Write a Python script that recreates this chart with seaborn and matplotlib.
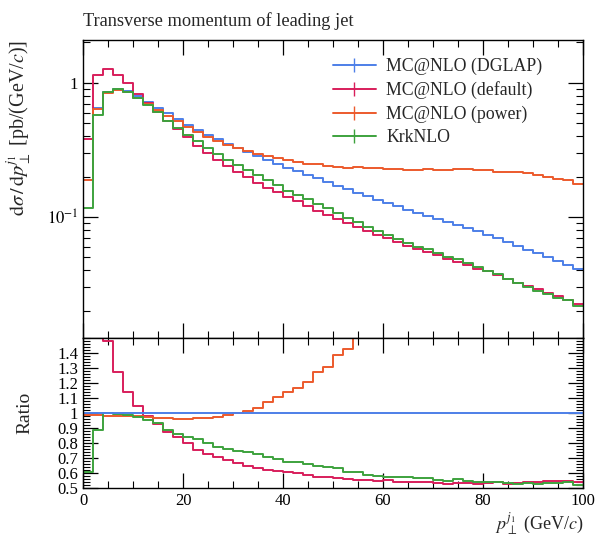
import numpy as np
import pandas as pd
import matplotlib
matplotlib.use("Agg")
import matplotlib.pyplot as plt
from matplotlib.lines import Line2D
from matplotlib.ticker import MultipleLocator, FixedLocator, FuncFormatter, NullFormatter
import seaborn as sns

# 2 GeV bins from 0 to 100 GeV
edges = np.arange(0, 102, 2)

# dsigma/dpT [pb/(GeV/c)] per bin
dglap = [0.19, 0.65, 0.85, 0.90, 0.865, 0.79, 0.715, 0.65, 0.59, 0.54,
         0.488, 0.447, 0.41, 0.378, 0.35, 0.326, 0.304, 0.284, 0.266, 0.249,
         0.233, 0.219, 0.206, 0.194, 0.182, 0.171, 0.161, 0.152, 0.143, 0.135,
         0.127, 0.120, 0.113, 0.107, 0.102, 0.097, 0.092, 0.0875, 0.083, 0.078,
         0.074, 0.0695, 0.0655, 0.061, 0.057, 0.0535, 0.050, 0.047, 0.0442, 0.0413]
default = [0.378, 1.15, 1.26, 1.144, 0.988, 0.829, 0.701, 0.601, 0.517, 0.455,
           0.392, 0.337, 0.299, 0.268, 0.240, 0.2165, 0.1973, 0.1806, 0.1655, 0.1526,
           0.1407, 0.1310, 0.1209, 0.1117, 0.1041, 0.0973, 0.0902, 0.0841, 0.0788, 0.0738,
           0.0700, 0.0650, 0.0612, 0.0576, 0.0549, 0.0517, 0.0487, 0.0466, 0.0441, 0.0411,
           0.0393, 0.0373, 0.0346, 0.0324, 0.0307, 0.0290, 0.0274, 0.0258, 0.0242, 0.0224]
power = [0.1875, 0.642, 0.835, 0.884, 0.848, 0.773, 0.696, 0.630, 0.569, 0.518,
         0.469, 0.433, 0.397, 0.369, 0.345, 0.327, 0.309, 0.294, 0.286, 0.276,
         0.265, 0.256, 0.248, 0.247, 0.238, 0.237, 0.230, 0.234, 0.232, 0.230,
         0.229, 0.227, 0.225, 0.222, 0.228, 0.225, 0.225, 0.229, 0.228, 0.225,
         0.222, 0.218, 0.216, 0.215, 0.211, 0.207, 0.199, 0.193, 0.188, 0.176]
krknlo = [0.1157, 0.577, 0.848, 0.892, 0.854, 0.771, 0.681, 0.605, 0.523, 0.463,
          0.411, 0.370, 0.327, 0.293, 0.267, 0.2435, 0.2256, 0.2056, 0.1886, 0.1726,
          0.1575, 0.1469, 0.1355, 0.1259, 0.1161, 0.1079, 0.0980, 0.0918, 0.0839, 0.0786,
          0.0732, 0.0691, 0.0645, 0.0603, 0.0580, 0.0536, 0.0503, 0.0488, 0.0456, 0.0423,
          0.0398, 0.0377, 0.0348, 0.0321, 0.0303, 0.0283, 0.0267, 0.0251, 0.0240, 0.0216]

labels = ["MC@NLO (DGLAP)", "MC@NLO (default)", "MC@NLO (power)", "KrkNLO"]
colors = ["#4d7fe8", "#d81e5b", "#ec5a2c", "#3da23d"]
palette = dict(zip(labels, colors))

sns.set_theme(style="ticks")
plt.rcParams["font.family"] = ["Liberation Serif", "DejaVu Serif"]
plt.rcParams["mathtext.fontset"] = "stix"
plt.rcParams["axes.edgecolor"] = "black"
plt.rcParams["axes.linewidth"] = 1.0

# wide table, last value repeated so steps-post closes the last bin
wide = pd.DataFrame({name: np.append(v, v[-1]) for name, v in zip(labels, [dglap, default, power, krknlo])})
wide["pt"] = edges
ratio = wide[labels].div(wide[labels[0]], axis=0)
ratio["pt"] = edges

main_long = wide.melt(id_vars="pt", var_name="sample", value_name="xsec")
ratio_long = ratio.melt(id_vars="pt", var_name="sample", value_name="ratio")

fig = plt.figure(figsize=(5.96, 5.36), dpi=100)
ax = fig.add_axes([83 / 596, 1 - 338 / 536, 500 / 596, 298 / 536])
rax = fig.add_axes([83 / 596, 1 - 488 / 536, 500 / 596, 150 / 536], sharex=ax)

sns.lineplot(data=main_long, x="pt", y="xsec", hue="sample", hue_order=labels,
             palette=palette, estimator=None, drawstyle="steps-post",
             linewidth=1.4, legend=False, ax=ax)
ax.set_yscale("log")

ratio_order = [labels[1], labels[2], labels[3], labels[0]]
sns.lineplot(data=ratio_long, x="pt", y="ratio", hue="sample", hue_order=ratio_order,
             palette=palette, estimator=None, drawstyle="steps-post",
             linewidth=1.4, legend=False, ax=rax)

ax.set_xlim(0, 100)
ax.set_ylim(0.01256, 2.08)
rax.set_ylim(0.5, 1.5)

for a in (ax, rax):
    a.tick_params(which="both", direction="in", top=True, right=True, colors="black",
                  labelsize=12)
    a.tick_params(which="major", length=11, width=0.9)
    a.tick_params(which="minor", length=5, width=0.8)
    a.xaxis.set_major_locator(MultipleLocator(20))
    a.xaxis.set_minor_locator(MultipleLocator(5))

ax.tick_params(labelbottom=False)
ax.yaxis.set_major_locator(FixedLocator([0.1, 1.0]))
ax.yaxis.set_minor_locator(FixedLocator([m * 10.0 ** e for e in (-2, -1, 0) for m in range(2, 10)]))
ax.yaxis.set_major_formatter(FuncFormatter(lambda v, p: "1" if v > 0.5 else r"$10^{-1}$"))
ax.yaxis.set_minor_formatter(NullFormatter())

rax.yaxis.set_major_locator(FixedLocator(np.round(np.arange(0.5, 1.45, 0.1), 2)))
rax.yaxis.set_minor_locator(MultipleLocator(0.02))
rax.yaxis.set_major_formatter(FuncFormatter(lambda v, p: f"{v:g}"))
rax.xaxis.set_major_formatter(FuncFormatter(lambda v, p: f"{v:g}"))

ax.set_xlabel("")
ax.set_ylabel(r"$\mathrm{d}\sigma\,/\,\mathrm{d}p_\perp^{j_1}$ [pb/(GeV/$c$)]", fontsize=14.5, loc="top")
ax.yaxis.set_label_coords(-0.1, 1.0)
rax.set_ylabel("Ratio", fontsize=14)
rax.yaxis.set_label_coords(-0.1, 0.5)
rax.set_xlabel(r"$p_\perp^{j_1}$ (GeV/$c$)", fontsize=13, loc="right", labelpad=1)
ax.set_title("Transverse momentum of leading jet", loc="left", fontsize=13.2, pad=10)

handles = [Line2D([0], [0], color=c, lw=1.4, marker="|", markersize=10, markeredgewidth=1.0)
           for c in colors]
ax.legend(handles, labels, loc="upper left", bbox_to_anchor=(0.5, 0.94), frameon=False,
          fontsize=12.8, borderaxespad=0, borderpad=0, handlelength=2.4, handletextpad=0.6,
          labelspacing=0.35)

fig.savefig("out.png", dpi=100)
